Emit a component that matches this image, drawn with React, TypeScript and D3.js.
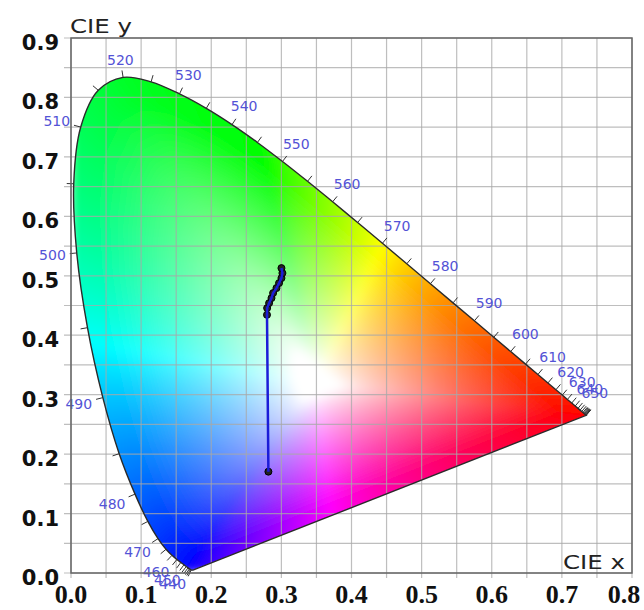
import React, { useMemo } from 'react';
import * as d3 from 'd3';

// CIE 1931 2° spectral locus, 5 nm steps
const wavelengths = [
  380, 385, 390, 395, 400, 405, 410, 415, 420, 425, 430, 435, 440, 445, 450, 455, 460, 465, 470, 475,
  480, 485, 490, 495, 500, 505, 510, 515, 520, 525, 530, 535, 540, 545, 550, 555, 560, 565, 570, 575,
  580, 585, 590, 595, 600, 605, 610, 615, 620, 625, 630, 635, 640, 645, 650, 655, 660, 665, 670, 675,
  680, 685, 690, 695, 700,
];
const locusX = [
  0.1741, 0.174, 0.1738, 0.1736, 0.1733, 0.173, 0.1726, 0.1721, 0.1714, 0.1703, 0.1689, 0.1669, 0.1644, 0.1611, 0.1566, 0.151, 0.144, 0.1355, 0.1241, 0.1096,
  0.0913, 0.0687, 0.0454, 0.0235, 0.0082, 0.0039, 0.0139, 0.0389, 0.0743, 0.1142, 0.1547, 0.1929, 0.2296, 0.2658, 0.3016, 0.3373, 0.3731, 0.4087, 0.4441, 0.4788,
  0.5125, 0.5448, 0.5752, 0.6029, 0.627, 0.6482, 0.6658, 0.6801, 0.6915, 0.7006, 0.7079, 0.714, 0.719, 0.723, 0.726, 0.7283, 0.73, 0.7311, 0.732, 0.7327,
  0.7334, 0.734, 0.7344, 0.7346, 0.7347,
];
const locusY = [
  0.005, 0.005, 0.0049, 0.0049, 0.0048, 0.0048, 0.0048, 0.0048, 0.0051, 0.0058, 0.0069, 0.0086, 0.0109, 0.0138, 0.0177, 0.0227, 0.0297, 0.0399, 0.0578, 0.0868,
  0.1327, 0.2007, 0.295, 0.4127, 0.5384, 0.6548, 0.7502, 0.812, 0.8338, 0.8262, 0.8059, 0.7816, 0.7543, 0.7243, 0.6923, 0.6589, 0.6245, 0.5896, 0.5547, 0.5202,
  0.4866, 0.4544, 0.4242, 0.3965, 0.3725, 0.3514, 0.334, 0.3197, 0.3083, 0.2993, 0.292, 0.2859, 0.2809, 0.277, 0.274, 0.2717, 0.27, 0.2689, 0.268, 0.2673,
  0.2666, 0.266, 0.2656, 0.2654, 0.2653,
];
const labelledWavelengths = [440, 450, 460, 470, 480, 490, 500, 510, 520, 530, 540, 550, 560, 570, 580, 590, 600, 610, 620, 630, 640, 650];
const tickFrom = 420;

const xTickLabels = ['0.0', '0.1', '0.2', '0.3', '0.4', '0.5', '0.6', '0.7', '0.8'];
const yTickLabels = ['0.0', '0.1', '0.2', '0.3', '0.4', '0.5', '0.6', '0.7', '0.8', '0.9'];

// measured chromaticity track
const seriesX = [0.2815, 0.2795, 0.2797, 0.2825, 0.2859, 0.2882, 0.293, 0.2967, 0.3001, 0.3015, 0.3001];
const seriesY = [0.1705, 0.4343, 0.4456, 0.454, 0.4625, 0.4709, 0.4793, 0.4877, 0.4961, 0.5045, 0.5129];

const whitePoint = [0.35, 0.32];

const W = 644;
const H = 610;

// saturated display colour for a boundary chromaticity (CIE RGB primaries, clipped)
function edgeColor(cx: number, cy: number) {
  const X = cx / cy;
  const Z = (1 - cx - cy) / cy;
  const r = Math.max(0, 2.3647 * X - 0.8966 - 0.4681 * Z);
  const g = Math.max(0, -0.5152 * X + 1.4264 + 0.0887 * Z);
  const b = Math.max(0, 0.0052 * X - 0.0144 + 1.0092 * Z);
  const m = Math.max(r, g, b) || 1;
  return [Math.pow(r / m, 0.7), Math.pow(g / m, 0.7), Math.pow(b / m, 0.7)];
}

const App = () => {
  const x = d3.scaleLinear().domain([0, 0.8]).range([71, 632]);
  const y = d3.scaleLinear().domain([0, 0.9]).range([573, 38]);
  const [x0, x1] = x.range();
  const [y0, y1] = [y.range()[1], y.range()[0]];

  const pts = wavelengths.map((w, i) => ({ w, px: x(locusX[i]), py: y(locusY[i]) }));
  const locusPath =
    d3.line<{ px: number; py: number }>().x(d => d.px).y(d => d.py).curve(d3.curveCatmullRom.alpha(0.5))(pts) + 'Z';

  const image = useMemo(() => {
    const [wx, wy] = whitePoint;
    const poly = locusX.map((v, i) => [v, locusY[i]]);
    poly.push(poly[0]);
    // boundary distance and colour for each direction around the white point
    const bins = 1440;
    const radius: number[] = [];
    const cols: number[][] = [];
    for (let k = 0; k < bins; k++) {
      const a = (k / bins) * Math.PI * 2;
      const dx = Math.cos(a);
      const dy = Math.sin(a);
      let best = Infinity;
      for (let s = 0; s < poly.length - 1; s++) {
        const [ax, ay] = poly[s];
        const ex = poly[s + 1][0] - ax;
        const ey = poly[s + 1][1] - ay;
        const den = dx * ey - dy * ex;
        if (Math.abs(den) < 1e-12) continue;
        const qx = ax - wx;
        const qy = ay - wy;
        const t = (qx * ey - qy * ex) / den;
        const u = (qx * dy - qy * dx) / den;
        if (t > 0 && u >= -1e-9 && u <= 1 + 1e-9 && t < best) best = t;
      }
      radius.push(best);
      cols.push(edgeColor(wx + dx * best, wy + dy * best));
    }

    const cw = Math.round(x1 - x0);
    const ch = Math.round(y1 - y0);
    const canvas = document.createElement('canvas');
    canvas.width = cw;
    canvas.height = ch;
    const ctx = canvas.getContext('2d');
    if (!ctx) return '';
    const img = ctx.createImageData(cw, ch);
    for (let j = 0; j < ch; j++) {
      const cy = y.invert(y0 + j + 0.5);
      for (let i = 0; i < cw; i++) {
        const cx = x.invert(x0 + i + 0.5);
        let a = Math.atan2(cy - wy, cx - wx);
        if (a < 0) a += Math.PI * 2;
        const kf = (a / (Math.PI * 2)) * bins;
        const k0 = Math.floor(kf) % bins;
        const k1 = (k0 + 1) % bins;
        const fr = kf - Math.floor(kf);
        const R = radius[k0] * (1 - fr) + radius[k1] * fr;
        const f = Math.min(1, Math.hypot(cx - wx, cy - wy) / R);
        const s = Math.pow(Math.max(0, Math.min(1, (f - 0.1) / 0.82)), 0.8);
        const k = (j * cw + i) * 4;
        for (let c = 0; c < 3; c++) {
          const e = cols[k0][c] * (1 - fr) + cols[k1][c] * fr;
          img.data[k + c] = 255 * (1 - s * (1 - e));
        }
        img.data[k + 3] = 255;
      }
    }
    ctx.putImageData(img, 0, 0);
    return canvas.toDataURL();
  }, []);

  const normalAt = (i: number) => {
    const a = pts[Math.max(0, i - 1)];
    const b = pts[Math.min(pts.length - 1, i + 1)];
    const tx = b.px - a.px;
    const ty = b.py - a.py;
    const len = Math.hypot(tx, ty) || 1;
    return [ty / len, -tx / len];
  };

  const tickLen = 7;
  const gridX = x.ticks(16);
  const gridY = y.ticks(18);

  const series = seriesX.map((v, i) => ({ px: x(v), py: y(seriesY[i]) }));
  const seriesPath = d3.line<{ px: number; py: number }>().x(d => d.px).y(d => d.py)(series) || '';

  return (
    <svg width={W} height={H} style={{ position: 'absolute', left: 0, top: 0, background: '#fff' }}>
      <defs>
        <clipPath id="locus">
          <path d={locusPath} />
        </clipPath>
        <filter id="soft" x="0" y="0" width="1" height="1">
          <feGaussianBlur stdDeviation="5" />
        </filter>
      </defs>
      <g clipPath="url(#locus)">
        <image href={image} x={x0} y={y0} width={x1 - x0} height={y1 - y0} preserveAspectRatio="none" filter="url(#soft)" />
      </g>

      {gridX.map(t => (
        <line key={'gx' + t} x1={x(t)} x2={x(t)} y1={y0} y2={y1 + 5} stroke="#a8a8a8" strokeOpacity={0.75} strokeWidth={1.2} />
      ))}
      {gridY.map(t => (
        <line key={'gy' + t} x1={x0 - 7} x2={x1} y1={y(t)} y2={y(t)} stroke="#a8a8a8" strokeOpacity={0.75} strokeWidth={1.2} />
      ))}

      <path d={locusPath} fill="none" stroke="#2b2b2b" strokeWidth={1.4} />

      {pts.filter(p => p.w >= tickFrom).map(p => {
        const i = pts.indexOf(p);
        const [nx, ny] = normalAt(i);
        return (
          <line key={'t' + p.w} x1={p.px} y1={p.py} x2={p.px + nx * tickLen} y2={p.py + ny * tickLen} stroke="#333" strokeWidth={1} />
        );
      })}
      {labelledWavelengths.map(w => {
        const i = wavelengths.indexOf(w);
        const p = pts[i];
        const [nx, ny] = normalAt(i);
        const d = tickLen + 3 + Math.abs(nx) * 14 + Math.abs(ny) * 5;
        return (
          <text key={'l' + w} x={p.px + nx * d} y={p.py + ny * d} textAnchor="middle" dominantBaseline="central"
            fontFamily="DejaVu Sans, Verdana, sans-serif" fontSize={14} fill="#5353d6">
            {w}
          </text>
        );
      })}

      <rect x={x0} y={y0} width={x1 - x0} height={y1 - y0} fill="none" stroke="#666" strokeWidth={1.5} />

      {xTickLabels.map(l => (
        <text key={'xl' + l} x={Math.min(x(+l), W - 20)} y={603} textAnchor="middle" fontFamily="Liberation Serif, Times New Roman, serif"
          fontWeight="bold" fontSize={26} fill="#111">
          {l}
        </text>
      ))}
      {yTickLabels.map(l => (
        <text key={'yl' + l} x={59} y={y(+l) + 5} textAnchor="end" dominantBaseline="central"
          fontFamily="DejaVu Sans, Verdana, sans-serif" fontWeight="bold" fontSize={21} fill="#111">
          {l}
        </text>
      ))}

      <text x={70} y={33} fontFamily="DejaVu Sans, Verdana, sans-serif" fontSize={20} fill="#222" textLength={62} lengthAdjust="spacingAndGlyphs">CIE y</text>
      <text x={563} y={569} fontFamily="DejaVu Sans, Verdana, sans-serif" fontSize={20} fill="#222" textLength={62} lengthAdjust="spacingAndGlyphs">CIE x</text>

      {series.map((p, i) => (
        <circle key={'m' + i} cx={p.px} cy={p.py} r={3.5} fill="#222" stroke="#000" strokeWidth={1} />
      ))}
      <path d={seriesPath} fill="none" stroke="#1c1cd8" strokeWidth={2.5} />
    </svg>
  );
};

export default App;
